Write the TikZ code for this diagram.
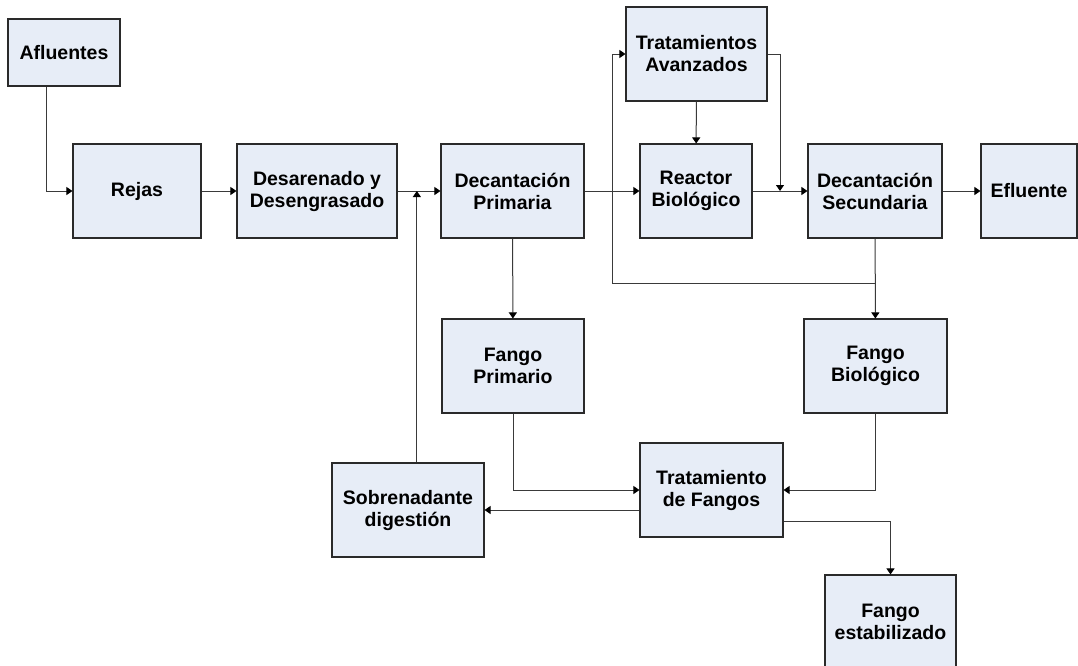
\documentclass[tikz,border=0pt]{standalone}
\usepackage{fontspec}
\setmainfont{Liberation Sans}
\usepackage{tikz}
\usetikzlibrary{calc,arrows.meta,positioning}
\definecolor{BoxBG}{HTML}{E7EDF7}
\definecolor{BoxFrame}{HTML}{2A2A2A}
\definecolor{LineCol}{HTML}{3A3A3A}

\begin{document}
\begin{tikzpicture}[x=1pt,y=-1pt,
  every node/.style={font=\fontsize{19.5}{22}\selectfont\bfseries},
  blk/.style={draw=BoxFrame, line width=1.1pt, fill=BoxBG, align=center,
              inner sep=2pt, minimum height=94pt},
  flow/.style={draw=LineCol, line width=1pt,
               -{Triangle[length=6pt,width=8pt,color=black]}},
  pipe/.style={draw=LineCol, line width=1pt}]
  \clip (0,0) rectangle (1078,665);
  % linea de agua
  \node[blk,minimum width=112pt,minimum height=67pt] (afl) at (64,52.5) {Afluentes};
  \node[blk,minimum width=128pt] (rej) at (137,191) {Rejas};
  \node[blk,minimum width=160pt] (des) at (317,191) {Desarenado y\\Desengrasado};
  \node[blk,minimum width=143pt] (dp)  at (512.5,191) {Decantación\\Primaria};
  \node[blk,minimum width=141pt] (ta)  at (696.5,54) {Tratamientos\\Avanzados};
  \node[blk,minimum width=112pt] (rb)  at (696,191) {Reactor\\Biológico};
  \node[blk,minimum width=134pt] (ds)  at (875,191) {Decantación\\Secundaria};
  \node[blk,minimum width=96pt]  (efl) at (1029,191) {Efluente};
  % linea de fangos
  \node[blk,minimum width=142pt] (fp)  at (513,366) {Fango\\Primario};
  \node[blk,minimum width=143pt] (fb)  at (875.5,366) {Fango\\Biológico};
  \node[blk,minimum width=143pt] (tf)  at (711.5,490) {Tratamiento\\de Fangos};
  \node[blk,minimum width=152pt] (sob) at (408,510) {Sobrenadante\\digestión};
  \node[blk,minimum width=131pt] (fe)  at (890.5,622) {Fango\\estabilizado};
  \coordinate (j1) at ($(des.east)!0.45!(dp.west)$);
  \coordinate (j2) at ($(rb.east)!0.5!(ds.west)$);
  \coordinate (j3) at (ds.south |- 0,283);
  \coordinate (j4) at (612,283);
  \draw[flow] ([xshift=-18pt]afl.south) |- (rej.west);
  \draw[flow] (rej) -- (des);
  \draw[flow] (des) -- (dp);
  \draw[flow] (sob.north -| j1) -- (j1);
  \draw[flow] (dp) -- (rb);
  \draw[flow] (ta) -- (rb);
  \draw[flow] (ta.east) -| (j2);
  \draw[flow] (rb) -- (ds);
  \draw[flow] (ds) -- (efl);
  \draw[flow] (ds) -- (fb);
  \draw[flow] (j3) -- (j4) |- (ta.west);
  \draw[flow] (dp) -- (fp);
  \draw[flow] (fp.south) |- (tf.west);
  \draw[flow] (fb.south) |- (tf.east);
  \draw[flow] ([yshift=-20pt]tf.west) -- (sob.east |- 0,510);
  \draw[flow] ([yshift=-31pt]tf.east) -| (fe.north);
\end{tikzpicture}
\end{document}
